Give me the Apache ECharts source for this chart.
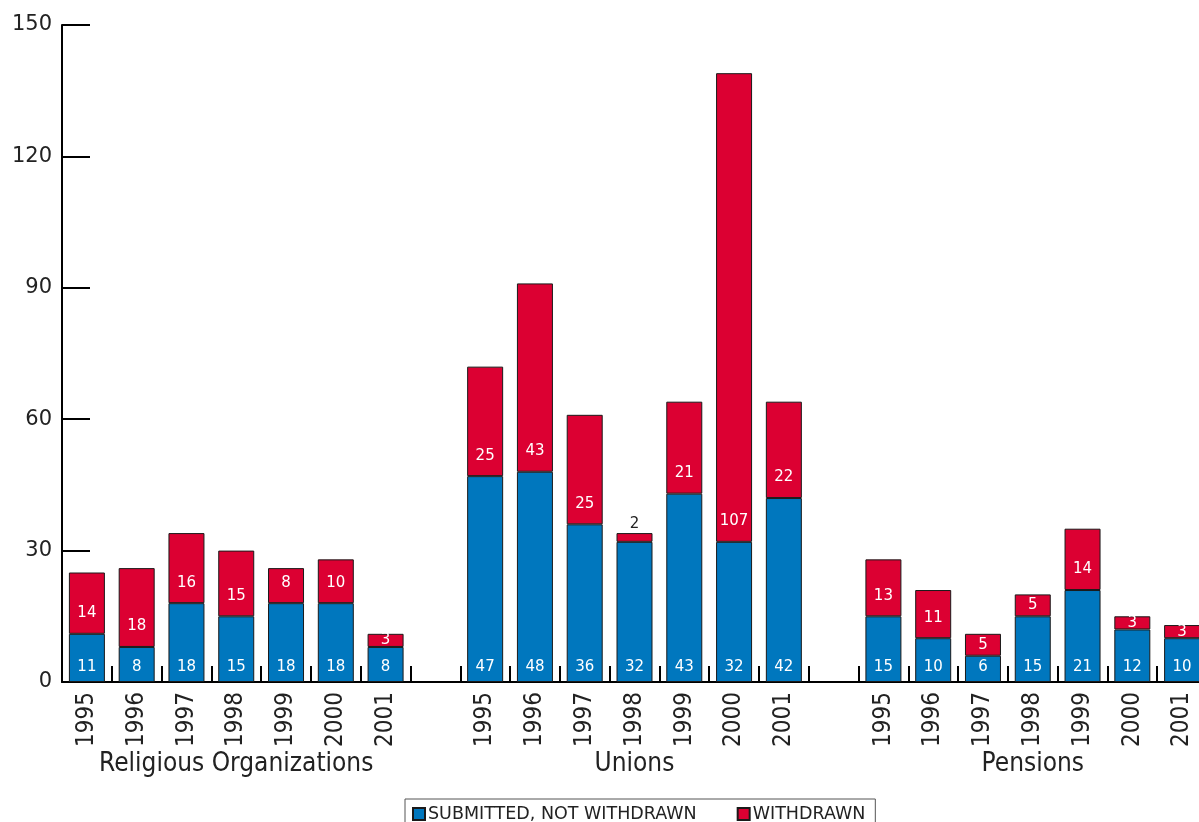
<!DOCTYPE html>
<html>
<head>
<meta charset="utf-8">
<script src="https://cdn.jsdelivr.net/npm/echarts@6/dist/echarts.min.js"></script>
<style>
html,body{margin:0;padding:0;background:#fff;}
#chart{width:1199px;height:822px;}
</style>
</head>
<body>
<div id="chart"></div>
<script>
// ---- data ----
var years = ['1995','1996','1997','1998','1999','2000','2001'];
var groups = ['Religious Organizations','Unions','Pensions'];
var submittedReligious = [11, 8, 18, 15, 18, 18, 8];
var withdrawnReligious = [14, 18, 16, 15, 8, 10, 3];
var submittedUnions = [47, 48, 36, 32, 43, 32, 42];
var withdrawnUnions = [25, 43, 25, 2, 21, 107, 22];
var submittedPensions = [15, 10, 6, 15, 21, 12, 10];
var withdrawnPensions = [13, 11, 5, 5, 14, 3, 3];
var yTicks = [0, 30, 60, 90, 120, 150];
var seriesNames = ['SUBMITTED, NOT WITHDRAWN', 'WITHDRAWN'];

// ---- build category axis with a blank slot between groups ----
var categories = [];
var groupLabels = [];
var submitted = [];
var withdrawn = [];
var subs = [submittedReligious, submittedUnions, submittedPensions];
var wds = [withdrawnReligious, withdrawnUnions, withdrawnPensions];
for (var g = 0; g < groups.length; g++) {
  for (var i = 0; i < years.length; i++) {
    categories.push(years[i]);
    groupLabels.push(i === 3 ? groups[g] : '');
    submitted.push(subs[g][i]);
    withdrawn.push(wds[g][i]);
  }
  if (g < groups.length - 1) {
    categories.push('');
    groupLabels.push('');
    submitted.push('-');
    withdrawn.push('-');
  }
}

var BLUE = '#0077BE', RED = '#DC0032';
var valueFont = 'DejaVu Sans';
var narrowFont = "'Liberation Sans Narrow', 'DejaVu Sans Condensed', 'Arial Narrow', sans-serif";

var withdrawnData = withdrawn.map(function (v) {
  if (v === '-') return v;
  var lab;
  if (v <= 2) {
    lab = { position: 'top', distance: 1, color: '#222' };
  } else if (v <= 5) {
    lab = { position: 'inside' };
  } else {
    lab = { position: 'insideBottom', distance: 13 };
  }
  return { value: v, label: lab };
});

var chart = echarts.init(document.getElementById('chart'), null, { renderer: 'canvas' });
chart.setOption({
  animation: false,
  backgroundColor: '#fff',
  grid: { left: 62, right: -8, top: 25, bottom: 140, containLabel: false, outerBoundsMode: 'none' },
  legend: {
    data: seriesNames,
    left: 405,
    top: 799,
    padding: [6, 10, 6, 7],
    borderColor: '#555',
    borderWidth: 1,
    itemWidth: 12,
    itemHeight: 12,
    itemGap: 40,
    icon: 'rect',
    textStyle: { fontFamily: 'DejaVu Sans', fontSize: 17.5, color: '#222', padding: [0, 0, 0, -2] }
  },
  xAxis: [{
    type: 'category',
    data: categories,
    boundaryGap: true,
    axisLine: { lineStyle: { color: '#000', width: 2 } },
    axisTick: { show: true, inside: true, length: 16, interval: 0, lineStyle: { color: '#000', width: 2 } },
    axisLabel: { interval: 0, rotate: 90, margin: 10, fontFamily: narrowFont, fontSize: 24, color: '#222' },
    splitLine: { show: false }
  }, {
    type: 'category',
    data: groupLabels,
    position: 'bottom',
    boundaryGap: true,
    axisLine: { show: false },
    axisTick: { show: false },
    axisLabel: { interval: 0, margin: 69, fontFamily: narrowFont, fontSize: 26, color: '#222' },
    splitLine: { show: false }
  }],
  yAxis: {
    type: 'value',
    min: 0,
    max: 150,
    interval: 30,
    axisLine: { show: true, lineStyle: { color: '#000', width: 2 } },
    axisTick: { show: true, inside: true, length: 28, lineStyle: { color: '#000', width: 2 } },
    axisLabel: {
      margin: 10, fontFamily: 'DejaVu Sans', fontSize: 21, color: '#222',
      formatter: function (v) { return yTicks.indexOf(v) >= 0 ? String(v) : ''; }
    },
    splitLine: { show: false }
  },
  series: [{
    name: seriesNames[0],
    type: 'bar',
    stack: 'total',
    barWidth: 36,
    data: submitted,
    itemStyle: { color: BLUE, borderColor: '#1a1a1a', borderWidth: 1 },
    label: { show: true, position: 'insideBottom', distance: 7, color: '#fff', fontFamily: valueFont, fontSize: 15 }
  }, {
    name: seriesNames[1],
    type: 'bar',
    stack: 'total',
    barWidth: 36,
    data: withdrawnData,
    itemStyle: { color: RED, borderColor: '#1a1a1a', borderWidth: 1 },
    label: { show: true, color: '#fff', fontFamily: valueFont, fontSize: 15 }
  }]
});
</script>
</body>
</html>
